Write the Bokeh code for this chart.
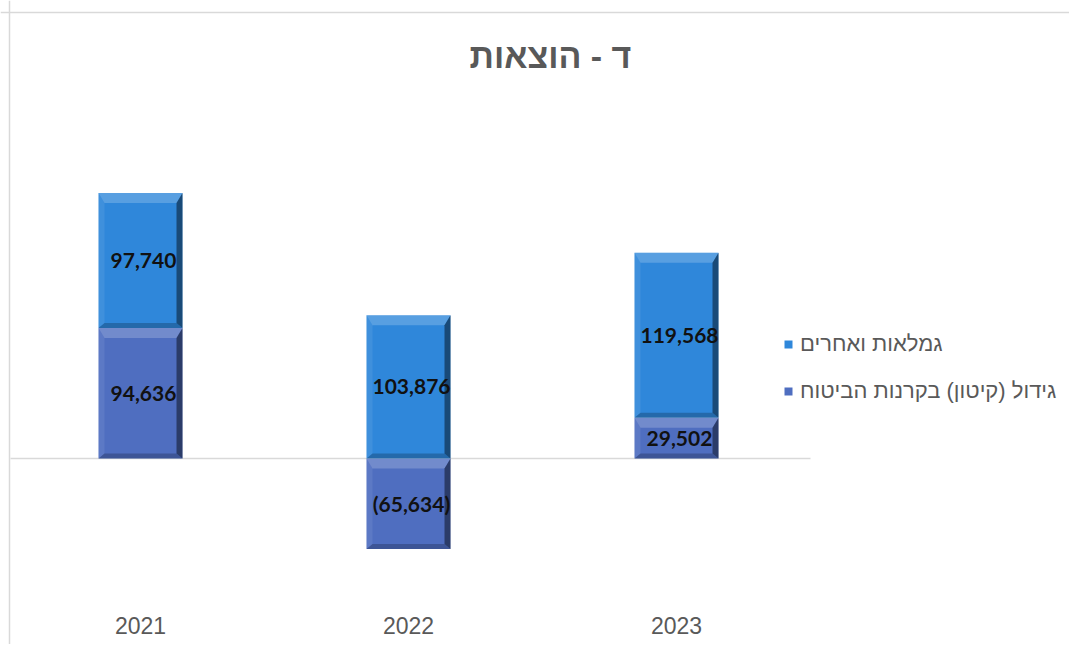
from bokeh.plotting import figure
from bokeh.models import Range1d, Legend, LegendItem, Span
from bokeh.core.properties import value
from bokeh.embed import file_html
from bokeh.resources import INLINE

# ---- data ----
years = ["2021", "2022", "2023"]
pension = [97740, 103876, 119568]      # גמלאות ואחרים
reserves = [94636, -65634, 29502]      # גידול (קיטון) בקרנות הביטוח
series_names = ["גמלאות ואחרים", "גידול (קיטון) בקרנות הביטוח"]
title_text = "ד - הוצאות"

# ---- layout helpers (picture pixel -> data) ----
W, H = 1069, 644
PX_X = 268.0          # px per category step
PX_Y = 0.00138        # px per value unit
X0_PAGE, Y0_PAGE = 140.0, 458.0


def dx(page_x):
    return (page_x - X0_PAGE) / PX_X


def dy(page_y):
    return (Y0_PAGE - page_y) / PX_Y


p = figure(width=W, height=H, output_backend="svg", toolbar_location=None,
           x_range=Range1d(dx(0), dx(W)), y_range=Range1d(dy(H), dy(0)),
           x_axis_location=None, y_axis_location=None,
           min_border_left=0, min_border_right=0, min_border_top=0, min_border_bottom=0)
p.xgrid.visible = False
p.ygrid.visible = False
p.outline_line_color = None
p.background_fill_color = "white"

# chart-area border (left and top) and zero line
p.add_layout(Span(location=dx(9), dimension="height", line_color="#d9d9d9", line_width=1.5))
p.add_layout(Span(location=dy(12), dimension="width", line_color="#d9d9d9", line_width=1.5))
p.segment(x0=[dx(10)], x1=[dx(810)], y0=[0], y1=[0], line_color="#d9d9d9", line_width=1.5)

xs = list(range(len(years)))
bw = 84 / PX_X

r_bot, r_top, p_bot, p_top = [], [], [], []
for r, g in zip(reserves, pension):
    if r >= 0:
        r_bot.append(0); r_top.append(r); p_bot.append(r); p_top.append(r + g)
    else:
        r_bot.append(r); r_top.append(0); p_bot.append(0); p_top.append(g)

C_PEN = "#2f87da"
C_RES = "#4f6ec0"

rr = p.vbar(x=xs, bottom=r_bot, top=r_top, width=bw, fill_color=C_RES, line_color=None)
rp = p.vbar(x=xs, bottom=p_bot, top=p_top, width=bw, fill_color=C_PEN, line_color=None)

# bevel overlays
bx_t, by_t = 6 / PX_X, 10 / PX_Y
bx_r = 6 / PX_X
by_b = 5 / PX_Y
tops_x, tops_y, rights_x, rights_y, bots_x, bots_y, lefts_x, lefts_y = [], [], [], [], [], [], [], []
for i in xs:
    for y0, y1 in ((r_bot[i], r_top[i]), (p_bot[i], p_top[i])):
        l, rgt = i - bw / 2, i + bw / 2
        tops_x.append([l, rgt, rgt - bx_r, l + bx_t]); tops_y.append([y1, y1, y1 - by_t, y1 - by_t])
        rights_x.append([rgt, rgt, rgt - bx_r, rgt - bx_r]); rights_y.append([y1, y0, y0 + by_b, y1 - by_t])
        bots_x.append([l, rgt, rgt - bx_r, l + bx_t]); bots_y.append([y0, y0, y0 + by_b, y0 + by_b])
        lefts_x.append([l, l + bx_t, l + bx_t, l]); lefts_y.append([y1, y1 - by_t, y0 + by_b, y0])
p.patches(tops_x, tops_y, fill_color="white", fill_alpha=0.2, line_color=None)
p.patches(lefts_x, lefts_y, fill_color="white", fill_alpha=0.08, line_color=None)
p.patches(rights_x, rights_y, fill_color="black", fill_alpha=0.45, line_color=None)
p.patches(bots_x, bots_y, fill_color="black", fill_alpha=0.22, line_color=None)


def fmt(v):
    s = f"{abs(v):,}"
    return f"({s})" if v < 0 else s


lab_x = [i + 3 / PX_X for i in xs] * 2
lab_y = [(a + b) / 2 for a, b in zip(p_bot, p_top)] + [(a + b) / 2 for a, b in zip(r_bot, r_top)]
lab_t = [fmt(v) for v in pension] + [fmt(v) for v in reserves]
p.text(x=lab_x, y=lab_y, text=lab_t, text_font=value("Lato"), text_font_style="bold",
       text_font_size="21px", text_color="#111111", text_align="center", text_baseline="middle")

# category labels
p.text(x=xs, y=[dy(625)] * len(xs), text=years, text_font=value("Liberation Sans"),
       text_font_size="23px", text_color="#595959", text_align="center", text_baseline="middle")

# title
p.text(x=[dx(550)], y=[dy(55)], text=[title_text], text_font=value("Liberation Sans"),
       text_font_style="bold", text_font_size="34px", text_color="#595959",
       text_align="center", text_baseline="middle")

legend = Legend(items=[LegendItem(label=series_names[0], renderers=[rp]),
                       LegendItem(label=series_names[1], renderers=[rr])],
                location=(783, H - 404), orientation="vertical",
                padding=0, margin=0, spacing=21, glyph_width=10, glyph_height=10,
                label_height=22, label_standoff=7,
                label_text_font="Liberation Sans", label_text_font_size="22px",
                label_text_color="#595959", background_fill_alpha=0, border_line_color=None)
p.add_layout(legend)

open("out.html", "w").write(file_html(p, INLINE))
